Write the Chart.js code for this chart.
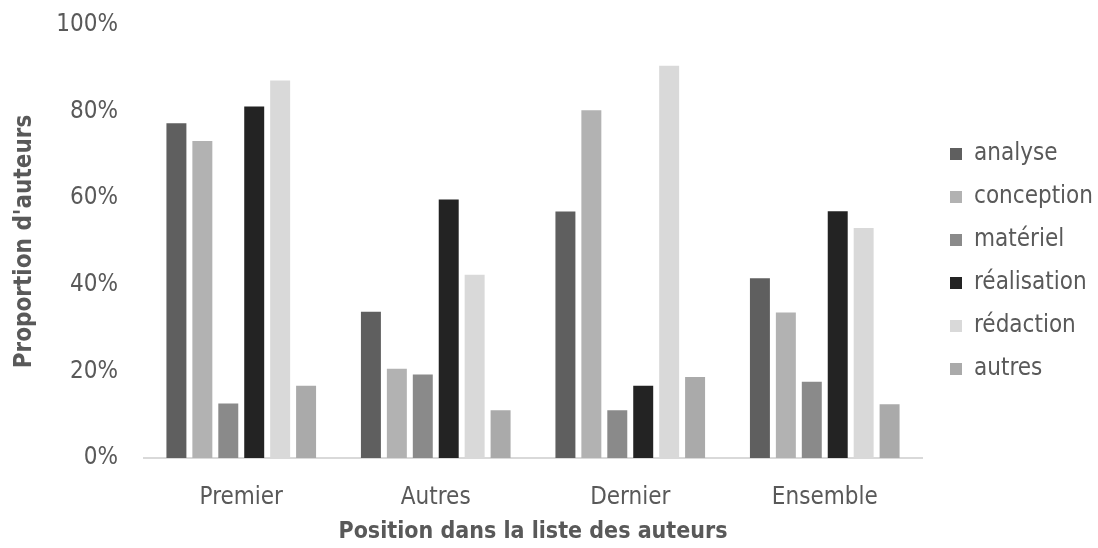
<!DOCTYPE html>
<html>
<head>
<meta charset="utf-8">
<script src="https://cdn.jsdelivr.net/npm/chart.js@4/dist/chart.umd.min.js"></script>
<style>
  html, body { margin: 0; padding: 0; background: #ffffff; }
  #wrap { width: 1098px; height: 548px; }
</style>
</head>
<body>
<div id="wrap"><canvas id="c" width="1098" height="548"></canvas></div>
<script>
// Position of the author in the author list
const categories = ['Premier', 'Autres', 'Dernier', 'Ensemble'];

// Share of authors (%) per contribution type
const analyse     = [77.3, 33.8, 56.9, 41.5];
const conception  = [73.2, 20.6, 80.3, 33.6];
const materiel    = [12.6, 19.3, 11.0, 17.6];
const realisation = [81.2, 59.7, 16.7, 57.0];
const redaction   = [87.2, 42.3, 90.6, 53.1];
const autres      = [16.7, 11.0, 18.7, 12.4];

const seriesNames  = ['analyse', 'conception', 'matériel', 'réalisation', 'rédaction', 'autres'];
const seriesValues = [analyse, conception, materiel, realisation, redaction, autres];
const seriesColors = ['#5f5f5f', '#b2b2b2', '#8a8a8a', '#232323', '#d9d9d9', '#aaaaaa'];

const yTicks = [0, 20, 40, 60, 80, 100];

const FONT = "'Liberation Sans Narrow', 'Arial Narrow', 'DejaVu Sans Condensed', sans-serif";
const TEXT = '#595959';

// Move the legend block a little right and up from its default slot
const legendShift = {
  id: 'legendShift',
  afterLayout(chart) {
    const lg = chart.legend;
    if (!lg) return;
    lg.left += 9; lg.right += 9;
    lg.top -= 25; lg.bottom -= 25;
  }
};

new Chart(document.getElementById('c'), {
  type: 'bar',
  data: {
    labels: categories,
    datasets: seriesNames.map((name, i) => ({
      label: name,
      data: seriesValues[i],
      backgroundColor: seriesColors[i],
      borderWidth: 0,
      categoryPercentage: 0.80,
      barPercentage: 0.77
    }))
  },
  options: {
    responsive: false,
    animation: false,
    layout: { padding: { top: 25, left: 0, right: 4, bottom: 0 } },
    plugins: {
      tooltip: { enabled: false },
      legend: {
        position: 'right',
        labels: {
          boxWidth: 12,
          boxHeight: 12,
          padding: 19,
          color: TEXT,
          font: { family: FONT, size: 24 }
        }
      }
    },
    scales: {
      x: {
        grid: { display: false, drawTicks: false },
        border: { display: true, color: '#d9d9d9', width: 2 },
        ticks: { color: TEXT, font: { family: FONT, size: 24 }, padding: 25 },
        title: {
          display: true,
          text: 'Position dans la liste des auteurs',
          color: TEXT,
          font: { family: FONT, size: 23, weight: 'bold' },
          padding: { top: 0, bottom: 2 }
        },
        afterFit(scale) { scale.height = 90; }
      },
      y: {
        min: 0,
        max: 100,
        afterBuildTicks(scale) { scale.ticks = yTicks.map(v => ({ value: v })); },
        grid: { display: false, drawTicks: false },
        border: { display: false },
        ticks: {
          color: TEXT,
          font: { family: FONT, size: 24 },
          padding: 26,
          callback: v => v + '%'
        },
        title: {
          display: true,
          text: "Proportion d'auteurs",
          color: TEXT,
          font: { family: FONT, size: 24, weight: 'bold' },
          padding: { top: 10, bottom: 0 }
        },
        afterFit(scale) {
          scale.width = 144;
          scale.paddingTop = 0;
          scale.paddingBottom = 0;
        }
      }
    }
  },
  plugins: [legendShift]
});
</script>
</body>
</html>
